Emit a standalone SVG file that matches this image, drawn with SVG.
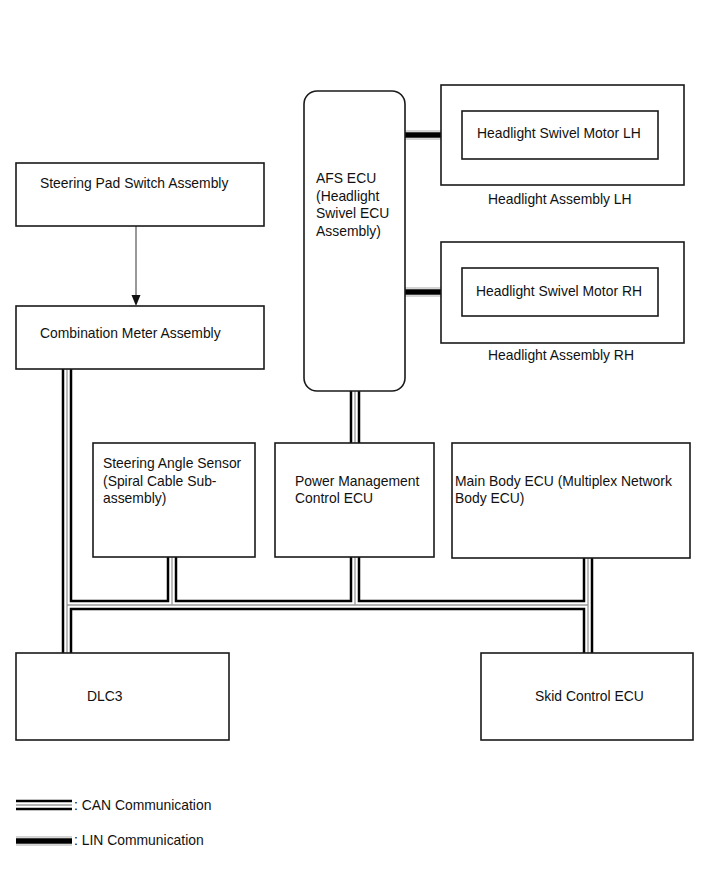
<svg xmlns="http://www.w3.org/2000/svg" width="713" height="882" viewBox="0 0 713 882">
<defs>
<style>
.box{fill:#fff;stroke:#1a1a1a;stroke-width:1.6}
.t{font-family:"Liberation Sans",Arial,sans-serif;font-size:13.9px;fill:#111}
.canb{fill:none;stroke:#000;stroke-width:2.5}
.cang{fill:none;stroke:#999;stroke-width:1.3}
.ling{fill:none;stroke:#aaa;stroke-width:9}
.linw{fill:none;stroke:#fff;stroke-width:7}
.linb{fill:none;stroke:#000;stroke-width:5.5}
</style>
</defs>
<rect width="713" height="882" fill="#fff"/>

<g id="connectors">
<line x1="136" y1="226" x2="136" y2="298" stroke="#555" stroke-width="1.2"/>
<path d="M131.5 295 L140.5 295 L136 306 Z" fill="#111"/>
<path class="ling" d="M405 135 H462"/><path class="linw" d="M405 135 H462"/><path class="linb" d="M405 135 H462"/>
<path class="ling" d="M405 292 H462"/><path class="linw" d="M405 292 H462"/><path class="linb" d="M405 292 H462"/>
<path class="canb" d="M351 391 V443 M359 391 V443"/>
<path class="cang" d="M355 391 V443"/>
<path class="canb" d="M63 369 V653"/>
<path class="canb" d="M71 369 V601 H168 V557"/>
<path class="canb" d="M176 557 V601 H351 V557"/>
<path class="canb" d="M359 557 V601 H584 V558"/>
<path class="canb" d="M592 558 V653"/>
<path class="canb" d="M71 653 V609 H584 V653"/>
<path class="cang" d="M67 369 V653 M67 605 H588 M172 557 V605 M355 557 V605 M588 558 V653"/>
</g>

<g id="steering-pad"><rect class="box" x="16" y="163" width="248" height="63"/><text class="t" x="40" y="188">Steering Pad Switch Assembly</text></g>
<g id="combination-meter"><rect class="box" x="16" y="306" width="248" height="63"/><text class="t" x="40" y="338">Combination Meter Assembly</text></g>
<g id="afs-ecu"><rect class="box" x="304" y="91" width="101" height="300" rx="13"/>
<text class="t" x="316" y="183">AFS ECU</text><text class="t" x="316" y="201">(Headlight</text><text class="t" x="316" y="218">Swivel ECU</text><text class="t" x="316" y="236">Assembly)</text></g>
<g id="headlight-lh"><rect class="box" x="441" y="85" width="243" height="100"/><rect class="box" x="462" y="111" width="196" height="48"/>
<text class="t" x="477" y="138">Headlight Swivel Motor LH</text><text class="t" x="488" y="204">Headlight Assembly LH</text></g>
<g id="headlight-rh"><rect class="box" x="441" y="242" width="243" height="101"/><rect class="box" x="462" y="268" width="196" height="48"/>
<text class="t" x="476" y="296">Headlight Swivel Motor RH</text><text class="t" x="488" y="360">Headlight Assembly RH</text></g>
<g id="steering-angle"><rect class="box" x="93" y="443" width="162" height="114"/>
<text class="t" x="103" y="468">Steering Angle Sensor</text><text class="t" x="103" y="486">(Spiral Cable Sub-</text><text class="t" x="103" y="503">assembly)</text></g>
<g id="power-mgmt"><rect class="box" x="275" y="443" width="159" height="114"/>
<text class="t" x="295" y="486">Power Management</text><text class="t" x="295" y="503">Control ECU</text></g>
<g id="main-body"><rect class="box" x="452" y="443" width="238" height="115"/>
<text class="t" x="455" y="486">Main Body ECU (Multiplex Network</text><text class="t" x="455" y="503">Body ECU)</text></g>
<g id="dlc3"><rect class="box" x="16" y="653" width="213" height="87"/><text class="t" x="87" y="701">DLC3</text></g>
<g id="skid"><rect class="box" x="481" y="653" width="212" height="87"/><text class="t" x="535" y="701">Skid Control ECU</text></g>

<g id="legend">
<path class="canb" d="M16 801 H72 M16 809 H72"/><path class="cang" d="M16 805 H72"/>
<text class="t" x="74" y="810">: CAN Communication</text>
<path class="ling" d="M16 841 H72"/><path class="linw" d="M16 841 H72"/><path class="linb" d="M16 841 H72"/>
<text class="t" x="74" y="845">: LIN Communication</text>
</g>
</svg>
